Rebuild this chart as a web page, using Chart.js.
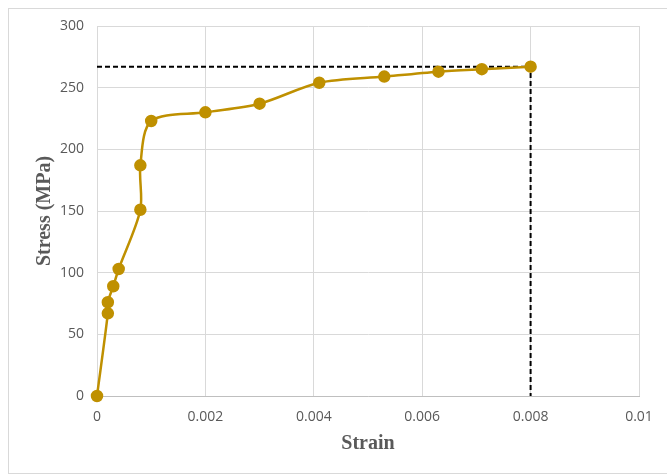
<!DOCTYPE html>
<html>
<head>
<meta charset="utf-8">
<script src="https://cdn.jsdelivr.net/npm/chart.js@4.4.1/dist/chart.umd.min.js"></script>
<style>
    body { margin: 0; background: #fff; }
    #caixa { position: absolute; left: 8px; top: 8px; width: 680px; height: 464px; border: 1px solid #d9d9d9; }
    #grafico { position: absolute; left: 0; top: 0; }
</style>
</head>
<body>
<div id="caixa"></div>
<canvas id="grafico" width="667" height="474"></canvas>
<script>
// dados
var strain = [0, 0.0002, 0.0002, 0.0003, 0.0004, 0.0008, 0.0008, 0.001, 0.002, 0.003, 0.0041, 0.0053, 0.0063, 0.0071, 0.008];
var stress = [0, 67, 76, 89, 103, 151, 187, 223, 230, 237, 254, 259, 263, 265, 267];
var limiteX = [0, 0.008, 0.008];
var limiteY = [267, 267, 0];
var xTicks = [0, 0.002, 0.004, 0.006, 0.008, 0.01];
var yTicks = [0, 50, 100, 150, 200, 250, 300];

function pontos(xs, ys) {
    var ret = [];
    for (var i = 0; i < xs.length; i++) {
        ret.push({ x: xs[i], y: ys[i] });
    }
    return ret;
}

var corTexto = '#595959';
var corGrade = '#d9d9d9';

var config = {
    type: 'scatter',
    data: {
        datasets: [{
            data: pontos(strain, stress),
            showLine: true,
            clip: false,
            borderColor: '#bf9000',
            backgroundColor: '#bf9000',
            borderWidth: 2.5,
            pointRadius: 5,
            tension: 0.3
        }, {
            data: pontos(limiteX, limiteY),
            showLine: true,
            clip: false,
            borderColor: '#000',
            borderWidth: 2,
            borderDash: [5, 3],
            pointRadius: 0,
            tension: 0
        }]
    },
    options: {
        responsive: false,
        animation: false,
        layout: { padding: { left: 29, top: 26, right: 28, bottom: 14 } },
        plugins: { legend: { display: false }, tooltip: { enabled: false } },
        scales: {
            x: {
                type: 'linear',
                min: 0,
                max: 0.01,
                afterBuildTicks: function(s) {
                    s.ticks = xTicks.map(function(v) { return { value: v }; });
                },
                afterFit: function(s) { s.height = 64; },
                ticks: {
                    color: corTexto,
                    padding: 13,
                    font: { family: 'Open Sans', size: 14 },
                    callback: function(v) { return String(+v.toFixed(3)); }
                },
                grid: { color: corGrade, drawTicks: false },
                border: { color: '#bfbfbf' },
                title: {
                    display: true,
                    text: 'Strain',
                    color: corTexto,
                    font: { family: 'Liberation Serif', size: 20, weight: 'bold' }
                }
            },
            y: {
                min: 0,
                max: 300,
                afterBuildTicks: function(s) {
                    s.ticks = yTicks.map(function(v) { return { value: v }; });
                },
                afterFit: function(s) { s.width = 68; },
                ticks: {
                    color: corTexto,
                    padding: 13,
                    font: { family: 'Open Sans', size: 14 }
                },
                grid: { color: corGrade, drawTicks: false },
                border: { color: corGrade },
                title: {
                    display: true,
                    text: 'Stress (MPa)',
                    color: corTexto,
                    font: { family: 'Liberation Serif', size: 20, weight: 'bold' }
                }
            }
        }
    }
};

new Chart(document.getElementById('grafico').getContext('2d'), config);
</script>
</body>
</html>
